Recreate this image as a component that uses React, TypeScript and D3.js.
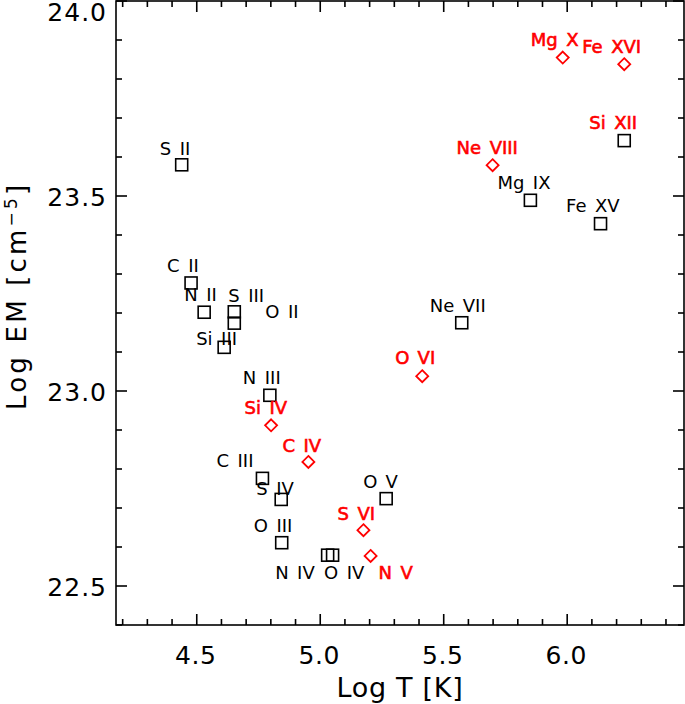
import React from "react";
import * as d3 from "d3";

// ---- data ----
const ionNames = ["S II","C II","N II","S III","O II","Si III","N III","Si IV","C IV","C III","S IV","O III","N IV","O IV","O V","S VI","N V","Mg X","Fe XVI","Si XII","Ne VIII","Mg IX","Fe XV","Ne VII","O VI"];
const logT = [4.439,4.477,4.530,4.652,4.652,4.611,4.796,4.801,4.952,4.766,4.842,4.844,5.030,5.050,5.267,5.175,5.204,5.982,6.231,6.231,5.698,5.851,6.135,5.573,5.413];
const logEM = [23.580,23.277,23.202,23.203,23.174,23.112,22.989,22.912,22.818,22.776,22.722,22.611,22.579,22.579,22.724,22.643,22.577,23.855,23.838,23.642,23.579,23.489,23.429,23.175,23.038];
const markerKind = ["sq","sq","sq","sq","sq","sq","sq","dm","dm","sq","sq","sq","sq","sq","sq","dm","dm","dm","dm","sq","dm","sq","sq","sq","dm"];
const labelRed = [false,false,false,false,false,false,false,true,true,false,false,false,false,false,false,true,true,true,true,true,true,false,false,false,true];
const xTickLabels = ["4.5","5.0","5.5","6.0"];
const yTickLabels = ["22.5","23.0","23.5","24.0"];

// label offsets (px) from marker centre: [dx, dy of baseline]
const labelOffsets: [number, number][] = [
  [-22,-10],[-24,-11],[-20,-11],[-6,-10],[31,-5],[-28,-2],[-27,-11],[-26.5,-11],[-26,-10],[-46,-11],
  [-25,-4.5],[-28,-11],[-52.5,24],[-8.5,24],[-23,-10.5],[-26,-10.3],[8,23.3],[-32,-11.7],[-42,-11],[-35,-11.2],
  [-36,-11],[-33,-11],[-34.5,-11.8],[-32,-10.8],[-27,-11.7]
];

const W = 685, H = 704;
const left = 116, right = 684, top = 1, bottom = 625;
const FONT = "'DejaVu Sans', sans-serif";

export default function App() {
  const x = d3.scaleLinear().domain([4.173, 6.473]).range([left, right]);
  const y = d3.scaleLinear().domain([22.4, 24.0]).range([bottom, top]);

  const xMinor = d3.range(42, 65).map(v => v / 10);
  const yMinor = d3.range(224, 241).map(v => v / 10);
  const isMajor = (v: number) => Math.abs(v * 2 - Math.round(v * 2)) < 1e-6;

  const axisColor = "#000";
  const sw = 1.6;

  return (
    <svg width={W} height={H} style={{ position: "absolute", left: 0, top: 0, background: "#fff" }} fontFamily={FONT}>
      <rect x={0} y={0} width={W} height={H} fill="#fff" />
      {/* frame */}
      <rect x={left} y={top} width={right - left} height={bottom - top} fill="none" stroke={axisColor} strokeWidth={sw} />
      {/* x ticks */}
      {xMinor.map((v, i) => {
        const len = isMajor(v) ? 11 : 6;
        const px = x(v);
        return (
          <g key={"xt" + i}>
            <line x1={px} x2={px} y1={bottom} y2={bottom - len} stroke={axisColor} strokeWidth={sw} />
            <line x1={px} x2={px} y1={top} y2={top + len} stroke={axisColor} strokeWidth={sw} />
          </g>
        );
      })}
      {/* y ticks */}
      {yMinor.map((v, i) => {
        const len = isMajor(v) ? 11 : 6;
        const py = y(v);
        return (
          <g key={"yt" + i}>
            <line x1={left} x2={left + len} y1={py} y2={py} stroke={axisColor} strokeWidth={sw} />
            <line x1={right} x2={right - len} y1={py} y2={py} stroke={axisColor} strokeWidth={sw} />
          </g>
        );
      })}
      {/* x tick labels */}
      {xTickLabels.map((t, i) => (
        <text key={"xl" + i} x={x(+t) - 1} y={664} fontSize={25} textAnchor="middle" letterSpacing={0.5} fill="#000">{t}</text>
      ))}
      {/* y tick labels */}
      {yTickLabels.map((t, i) => (
        <text key={"yl" + i} x={107} y={Math.max(y(+t) + 10, 21)} fontSize={25} textAnchor="end" letterSpacing={1} fill="#000">{t}</text>
      ))}
      {/* axis titles */}
      <text x={(left + right) / 2} y={697} fontSize={27} textAnchor="middle" letterSpacing={0.7} fill="#000">Log T [K]</text>
      <text transform="translate(26,410) rotate(-90)" fontSize={26} letterSpacing={3.2} fill="#000">
        Log EM [cm<tspan fontSize={17} dy={-9}>−5</tspan><tspan dy={9}>]</tspan>
      </text>
      {/* markers */}
      {logT.map((t, i) => {
        const cx = x(t), cy = y(logEM[i]);
        if (markerKind[i] === "sq") {
          return <rect key={"m" + i} x={cx - 6} y={cy - 6} width={12} height={12} fill="none" stroke="#000" strokeWidth={1.6} />;
        }
        const r = 6;
        return <path key={"m" + i} d={`M${cx},${cy - r}L${cx + r},${cy}L${cx},${cy + r}L${cx - r},${cy}Z`} fill="none" stroke="#ff0000" strokeWidth={1.8} />;
      })}
      {/* labels */}
      {ionNames.map((name, i) => {
        const [el, ion] = name.split(" ");
        const cx = x(logT[i]), cy = y(logEM[i]);
        const [dx, dy] = labelOffsets[i];
        const red = labelRed[i];
        return (
          <text key={"l" + i} x={cx + dx} y={cy + dy} fontSize={18} fill={red ? "#ff0000" : "#000"}
            stroke={red ? "#ff0000" : "none"} strokeWidth={red ? 0.6 : 0}>
            {el}<tspan dx={8.5}>{ion}</tspan>
          </text>
        );
      })}
    </svg>
  );
}
